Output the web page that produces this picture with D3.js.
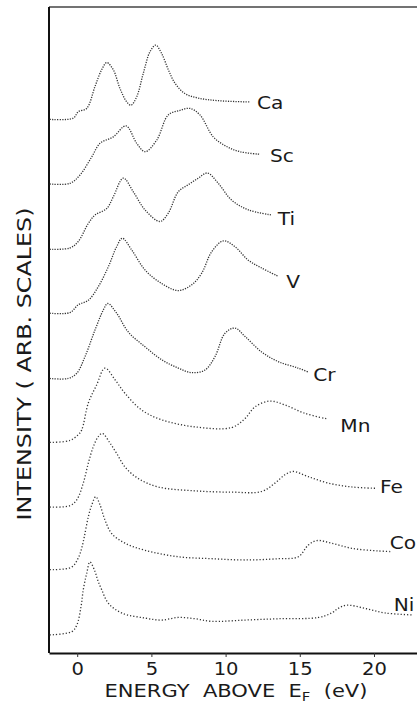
<!DOCTYPE html>
<html>
<head>
<meta charset="utf-8">
<script src="https://cdn.jsdelivr.net/npm/d3@7"></script>
<style>
  body { margin: 0; background: #fff; }
  svg text { font-family: "DejaVu Sans", sans-serif; fill: #1a1a1a; }
</style>
</head>
<body>
<div id="chart"></div>
<script>
// Spectra: [energy above E_F (eV), intensity (arb., curves stacked)]
const ca = [[-1.85,82.6],[-0.26,82.8],[0.07,83.8],[0.64,84.3],[1.2,87.7],[1.65,90.3],[1.99,91.4],[2.43,90.3],[2.88,87.4],[3.34,85.3],[3.63,84.8],[4.01,86.1],[4.45,89.7],[4.91,93.1],[5.29,94.1],[5.69,92.8],[6.14,90.3],[6.59,88.2],[7.26,86.6],[8.16,85.9],[9.51,85.5],[11.64,85.3]];
const sc = [[-1.85,72.6],[-0.49,72.7],[0.19,74.0],[0.98,76.8],[1.54,78.9],[2.43,79.9],[3.29,81.6],[4.01,78.9],[4.57,77.6],[5.36,79.4],[6.14,83.3],[6.93,84.0],[7.6,84.3],[8.27,83.3],[9.17,79.9],[10.07,78.4],[10.97,77.6],[12.32,77.2]];
const ti = [[-1.85,62.5],[-0.49,62.7],[0.07,63.7],[0.75,66.5],[1.2,67.8],[1.99,68.8],[2.43,70.6],[3.11,73.5],[3.78,71.4],[4.57,68.6],[5.58,66.8],[6.14,68.1],[6.81,71.4],[7.49,72.5],[8.16,73.5],[8.77,74.3],[9.51,72.7],[10.41,70.1],[11.53,68.6],[13.11,67.8]];
const v = [[-1.85,52.6],[-0.49,52.7],[0.07,53.9],[0.75,54.6],[1.42,56.7],[2.1,59.8],[2.66,62.9],[3.04,64.2],[3.67,62.4],[4.57,59.3],[5.69,57.2],[6.81,56.1],[7.72,57.0],[8.39,58.8],[9.06,62.1],[9.85,63.8],[10.63,62.9],[11.53,60.8],[12.43,59.6],[13.55,58.3]];
const cr = [[-1.85,42.5],[-0.6,42.5],[-0.03,43.3],[0.53,45.9],[1.2,50.0],[1.76,53.1],[2.06,54.1],[2.66,52.6],[3.44,49.7],[4.57,47.4],[5.69,45.4],[6.81,44.1],[7.72,43.4],[8.61,43.8],[9.29,45.9],[9.96,49.5],[10.63,50.3],[11.31,49.0],[12.43,46.6],[13.55,45.1],[14.9,44.1],[15.57,43.5]];
const mn = [[-1.85,32.6],[-0.49,32.9],[0.07,33.8],[0.3,34.5],[0.75,38.7],[1.31,41.5],[1.87,44.1],[2.55,42.3],[3.22,40.2],[4.35,37.6],[5.69,36.1],[7.94,35.0],[10.41,34.9],[11.31,36.3],[11.98,38.1],[12.99,39.0],[14.0,38.4],[15.35,37.1],[16.92,36.2]];
const fe = [[-1.85,22.6],[-0.49,22.8],[-0.03,23.7],[0.41,26.3],[0.75,29.4],[1.08,31.9],[1.42,33.5],[1.69,34.0],[2.21,32.5],[2.66,30.9],[3.22,28.8],[4.12,27.0],[5.47,25.7],[7.94,25.1],[10.41,24.9],[12.43,25.0],[13.33,26.3],[14.0,27.6],[14.56,28.1],[15.57,27.3],[16.92,26.3],[18.5,25.7],[20.07,25.5]];
const co = [[-1.85,12.9],[-0.37,13.3],[0.07,14.7],[0.3,16.2],[0.48,18.0],[0.75,21.1],[0.98,22.9],[1.25,24.2],[1.54,22.9],[1.87,20.6],[2.32,18.5],[3.22,17.0],[4.57,15.9],[6.81,14.9],[9.06,14.6],[11.31,14.4],[13.55,14.6],[14.9,14.9],[15.57,16.7],[16.14,17.4],[17.15,17.0],[18.5,16.2],[20.29,15.8],[21.19,15.7]];
const ni = [[-1.85,2.8],[-0.37,3.3],[-0.03,4.3],[0.26,7.2],[0.41,9.8],[0.64,12.3],[0.86,14.1],[1.2,12.6],[1.38,11.3],[1.65,9.8],[2.1,7.7],[3.0,6.2],[4.57,5.4],[5.69,5.1],[6.81,5.5],[7.94,5.3],[9.06,4.9],[11.31,5.1],[13.55,5.3],[16.25,5.5],[17.15,6.2],[17.59,6.9],[18.16,7.4],[19.39,6.9],[20.74,6.2],[22.54,5.9]];

const elements = ["Ca", "Sc", "Ti", "V", "Cr", "Mn", "Fe", "Co", "Ni"];
const spectra = [ca, sc, ti, v, cr, mn, fe, co, ni];
const xTicks = [0, 5, 10, 15, 20];

// label offsets from the end of each curve (px)
const labelNudge = {
  Ca: [7, 1], Sc: [10, 1], Ti: [6, 3], V: [8, 5], Cr: [5, 3],
  Mn: [12, 6], Fe: [5, -2], Co: [-2, -9], Ni: [-18, -10]
};

const W = 417, H = 703;
const plotLeft = 49, plotTop = 7, plotBottom = 653;

const svg = d3.select("#chart").append("svg")
  .attr("width", W)
  .attr("height", H);

const x = d3.scaleLinear().domain([-1.9, 25]).range([plotLeft, plotLeft + 26.9 * 14.84]);
const y = d3.scaleLinear().domain([0, 100]).range([plotBottom, plotTop]);

// horizontal stretch factor so a text spans the given width
function fitWidth(sel, target) {
  const w = sel.node().getComputedTextLength();
  return target / w;
}

// frame: top and left lines
svg.append("line")
  .attr("x1", plotLeft).attr("x2", x(25)).attr("y1", plotTop).attr("y2", plotTop)
  .attr("stroke", "#444").attr("stroke-width", 1.5);
svg.append("line")
  .attr("x1", plotLeft).attr("x2", plotLeft).attr("y1", plotTop).attr("y2", plotBottom)
  .attr("stroke", "#111").attr("stroke-width", 2);

// bottom axis
const xAxis = svg.append("g")
  .attr("transform", `translate(0,${plotBottom})`)
  .call(d3.axisBottom(x).tickValues(xTicks).tickSizeInner(4).tickSizeOuter(0).tickPadding(6));
xAxis.select(".domain").attr("stroke", "#111").attr("stroke-width", 2);
xAxis.selectAll(".tick line").attr("stroke", "#333");
xAxis.selectAll(".tick text")
  .style("font-family", "DejaVu Sans, sans-serif")
  .style("font-size", "17px")
  .attr("fill", "#1a1a1a")
  .attr("transform", "scale(1.15,1)");

// spectra as dotted traces
const line = d3.line()
  .x(d => x(d[0]))
  .y(d => y(d[1]))
  .curve(d3.curveCatmullRom.alpha(0.5));

svg.selectAll(".spectrum")
  .data(spectra)
  .enter()
  .append("path")
  .attr("class", "spectrum")
  .attr("d", line)
  .attr("fill", "none")
  .attr("stroke", "#333")
  .attr("stroke-width", 1.3)
  .attr("stroke-dasharray", (d, i) => i < 5 ? "1.2,1.3" : "1.2,2");

svg.selectAll(".elabel")
  .data(elements)
  .enter()
  .append("text")
  .attr("class", "elabel")
  .attr("transform", (d, i) => {
    const last = spectra[i][spectra[i].length - 1];
    return `translate(${x(last[0]) + labelNudge[d][0]},${y(last[1]) + labelNudge[d][1]}) scale(1.12,1)`;
  })
  .attr("dy", "0.36em")
  .style("font-size", "18px")
  .text(d => d);

// axis titles
const xTitle = svg.append("text")
  .attr("text-anchor", "middle")
  .style("font-size", "17px")
  .style("white-space", "pre");
xTitle.append("tspan").text("ENERGY  ABOVE  E");
xTitle.append("tspan").attr("dy", 4).style("font-size", "12px").text("F");
xTitle.append("tspan").attr("dy", -4).text("  (eV)");
xTitle.attr("transform", `translate(236,697) scale(${fitWidth(xTitle, 263)},1)`);

const yTitle = svg.append("text")
  .attr("text-anchor", "middle")
  .style("font-size", "19px")
  .text("INTENSITY ( ARB. SCALES)");
yTitle.attr("transform", `translate(31,364) rotate(-90) scale(${fitWidth(yTitle, 313)},1)`);
</script>
</body>
</html>
